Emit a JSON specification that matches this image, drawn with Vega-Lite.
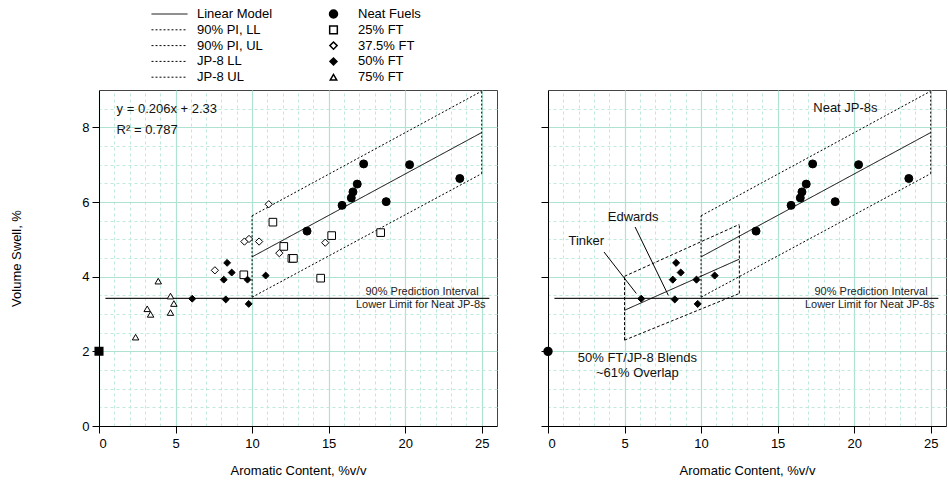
{
  "$schema": "https://vega.github.io/schema/vega-lite/v6.json",
  "background": "white",
  "padding": {"left": 10, "top": 7, "right": 0, "bottom": 0},
  "config": {
    "font": "Liberation Sans",
    "view": {"stroke": "#444", "strokeWidth": 1},
    "axis": {
      "labelFont": "Liberation Sans", "labelFontSize": 13, "labelColor": "#000",
      "titleFont": "Liberation Sans", "titleFontSize": 13, "titleFontWeight": "normal", "titleColor": "#000",
      "domainColor": "#000", "tickColor": "#000", "tickSize": 7,
      "gridColor": "#aee3d3", "gridWidth": 1.2
    },
    "legend": {"labelFont": "Liberation Sans", "labelFontSize": 13, "labelColor": "#000"}
  },
  "datasets": {
    "points": [
      {"x": 13.59, "y": 5.22, "group": "Neat Fuels"},
      {"x": 15.88, "y": 5.91, "group": "Neat Fuels"},
      {"x": 16.48, "y": 6.11, "group": "Neat Fuels"},
      {"x": 16.59, "y": 6.27, "group": "Neat Fuels"},
      {"x": 16.87, "y": 6.48, "group": "Neat Fuels"},
      {"x": 17.29, "y": 7.02, "group": "Neat Fuels"},
      {"x": 18.76, "y": 6.01, "group": "Neat Fuels"},
      {"x": 20.29, "y": 7.0, "group": "Neat Fuels"},
      {"x": 23.57, "y": 6.63, "group": "Neat Fuels"},
      {"x": 11.36, "y": 5.46, "group": "25% FT"},
      {"x": 12.07, "y": 4.81, "group": "25% FT"},
      {"x": 12.6, "y": 4.49, "group": "25% FT"},
      {"x": 12.7, "y": 4.49, "group": "25% FT"},
      {"x": 9.46, "y": 4.05, "group": "25% FT"},
      {"x": 15.2, "y": 5.1, "group": "25% FT"},
      {"x": 18.4, "y": 5.18, "group": "25% FT"},
      {"x": 14.48, "y": 3.96, "group": "25% FT"},
      {"x": 11.09, "y": 5.94, "group": "37.5% FT"},
      {"x": 9.5, "y": 4.94, "group": "37.5% FT"},
      {"x": 9.8, "y": 5.01, "group": "37.5% FT"},
      {"x": 10.46, "y": 4.94, "group": "37.5% FT"},
      {"x": 11.78, "y": 4.63, "group": "37.5% FT"},
      {"x": 7.57, "y": 4.17, "group": "37.5% FT"},
      {"x": 14.78, "y": 4.91, "group": "37.5% FT"},
      {"x": 8.37, "y": 4.37, "group": "50% FT"},
      {"x": 8.67, "y": 4.11, "group": "50% FT"},
      {"x": 8.15, "y": 3.92, "group": "50% FT"},
      {"x": 9.7, "y": 3.92, "group": "50% FT"},
      {"x": 10.89, "y": 4.03, "group": "50% FT"},
      {"x": 6.09, "y": 3.41, "group": "50% FT"},
      {"x": 8.28, "y": 3.39, "group": "50% FT"},
      {"x": 9.78, "y": 3.27, "group": "50% FT"},
      {"x": 3.87, "y": 3.88, "group": "75% FT"},
      {"x": 4.67, "y": 3.48, "group": "75% FT"},
      {"x": 4.89, "y": 3.28, "group": "75% FT"},
      {"x": 3.15, "y": 3.14, "group": "75% FT"},
      {"x": 3.37, "y": 2.99, "group": "75% FT"},
      {"x": 4.67, "y": 3.04, "group": "75% FT"},
      {"x": 2.39, "y": 2.38, "group": "75% FT"}
    ],
    "zero": [{"x": 0, "y": 2, "group": "Neat FT"}],
    "neatBand": [
      {"series": "Linear Model", "x": 10, "y": 4.53, "x2": 25, "y2": 7.86},
      {"series": "90% PI, LL", "x": 10, "y": 3.45, "x2": 25, "y2": 6.76},
      {"series": "90% PI, UL", "x": 10, "y": 5.63, "x2": 25, "y2": 8.97},
      {"series": "JP-8 LL", "x": 10, "y": 3.45, "x2": 10, "y2": 5.63},
      {"series": "JP-8 UL", "x": 25, "y": 6.76, "x2": 25, "y2": 8.97}
    ],
    "blendBand": [
      {"series": "Blend Model", "x": 5, "y": 3.1, "x2": 12.5, "y2": 4.47},
      {"series": "Blend PI, LL", "x": 5, "y": 2.3, "x2": 12.5, "y2": 3.55},
      {"series": "Blend PI, UL", "x": 5, "y": 4.01, "x2": 12.5, "y2": 5.4},
      {"series": "Blend LL", "x": 5, "y": 2.3, "x2": 5, "y2": 4.01},
      {"series": "Blend UL", "x": 12.5, "y": 3.55, "x2": 12.5, "y2": 5.4}
    ],
    "limit": [{"x": 0.42, "x2": 25.5, "y": 3.42}],
    "pointers": [
      {"label": "Edwards", "x": 5.69, "y": 5.33, "x2": 7.86, "y2": 3.5},
      {"label": "Tinker", "x": 3.66, "y": 4.66, "x2": 5.77, "y2": 3.55}
    ],
    "limitText": [
      {"x": 24.8, "y": 3.58, "text": "90% Prediction Interval"},
      {"x": 25.25, "y": 3.24, "text": "Lower Limit for Neat JP-8s"}
    ],
    "equation": [
      {"x": 1.15, "y": 8.5, "text": "y = 0.206x + 2.33"},
      {"x": 1.15, "y": 7.92, "text": "R² = 0.787"}
    ],
    "rightNotes": [
      {"x": 19.43, "y": 8.52, "text": "Neat JP-8s"},
      {"x": 5.56, "y": 5.6, "text": "Edwards"},
      {"x": 2.5, "y": 4.95, "text": "Tinker"},
      {"x": 5.84, "y": 1.83, "text": "50% FT/JP-8 Blends"},
      {"x": 5.84, "y": 1.42, "text": "~61% Overlap"}
    ]
  },
  "hconcat": [
    {
      "width": 398,
      "height": 336,
      "layer": [
        {
          "data": {"name": "limit"},
          "mark": {"type": "rule", "stroke": "#222", "strokeWidth": 1.2},
          "encoding": {
            "x": {"field": "x", "type": "quantitative", "scale": {"domain": [0, 26], "nice": false, "zero": false},
              "axis": {"orient": "top", "values": [1,2,3,4,6,7,8,9,11,12,13,14,16,17,18,19,21,22,23,24], "grid": true, "gridDash": [3, 3], "gridColor": "#bfe9dd", "gridWidth": 1, "domain": false, "ticks": false, "labels": false, "title": null}},
            "x2": {"field": "x2"},
            "y": {"field": "y", "type": "quantitative", "scale": {"domain": [0, 9], "nice": false, "zero": false},
              "axis": {"orient": "right", "values": [0.5,1,1.5,2.5,3,3.5,4.5,5,5.5,6.5,7,7.5,8.5], "grid": true, "gridDash": [3, 3], "gridColor": "#bfe9dd", "gridWidth": 1, "domain": false, "ticks": false, "labels": false, "title": null}}
          }
        },
        {
          "data": {"name": "neatBand"},
          "mark": {"type": "rule", "stroke": "#000", "strokeWidth": 1},
          "encoding": {
            "x": {"field": "x", "type": "quantitative", "axis": null},
            "x2": {"field": "x2"},
            "y": {"field": "y", "type": "quantitative", "axis": null},
            "y2": {"field": "y2"},
            "strokeDash": {"field": "series", "type": "nominal",
              "scale": {"domain": ["Linear Model", "90% PI, LL", "90% PI, UL", "JP-8 LL", "JP-8 UL"], "range": [[1, 0], [2, 2], [2, 2], [2, 2], [2, 2]]},
              "legend": {"orient": "none", "legendX": 52, "legendY": -82.5, "direction": "vertical", "title": null, "symbolType": "stroke", "symbolSize": 1296, "symbolStrokeColor": "#000", "symbolStrokeWidth": 1, "clipHeight": 13, "rowPadding": 1.8, "labelOffset": 9}}
          }
        },
        {
          "data": {"name": "points"},
          "mark": {"type": "point", "filled": true, "stroke": "#000", "strokeWidth": 1, "opacity": 1},
          "encoding": {
            "x": {"field": "x", "type": "quantitative",
              "axis": {"orient": "bottom", "values": [0, 5, 10, 15, 20, 25], "grid": true, "title": "Aromatic Content, %v/v", "labelPadding": 4, "titlePadding": 14}},
            "y": {"field": "y", "type": "quantitative",
              "axis": {"orient": "left", "values": [0, 2, 4, 6, 8], "grid": true, "title": "Volume Swell, %", "labelPadding": 3, "titlePadding": 58}},
            "shape": {"field": "group", "type": "nominal",
              "scale": {"domain": ["Neat Fuels", "25% FT", "37.5% FT", "50% FT", "75% FT"], "range": ["circle", "square", "diamond", "diamond", "triangle-up"]},
              "legend": {"orient": "none", "legendX": 228, "legendY": -82.5, "direction": "vertical", "title": null, "clipHeight": 13, "rowPadding": 1.8, "labelOffset": 18,
                "encode": {"symbols": {"update": {"stroke": {"value": "#000"}, "strokeWidth": {"value": 1}, "opacity": {"value": 1}}}}}},
            "fill": {"field": "group", "type": "nominal",
              "scale": {"domain": ["Neat Fuels", "25% FT", "37.5% FT", "50% FT", "75% FT"], "range": ["#000", "#fff", "#fff", "#000", "#fff"]},
              "legend": {"orient": "none", "legendX": 228, "legendY": -82.5, "direction": "vertical", "title": null, "clipHeight": 13, "rowPadding": 1.8, "labelOffset": 18,
                "encode": {"symbols": {"update": {"stroke": {"value": "#000"}, "strokeWidth": {"value": 1}, "opacity": {"value": 1}}}}}},
            "size": {"field": "group", "type": "nominal",
              "scale": {"domain": ["Neat Fuels", "25% FT", "37.5% FT", "50% FT", "75% FT"], "range": [64, 42, 40, 50, 45]},
              "legend": {"orient": "none", "legendX": 228, "legendY": -82.5, "direction": "vertical", "title": null, "clipHeight": 13, "rowPadding": 1.8, "labelOffset": 18,
                "encode": {"symbols": {"update": {"stroke": {"value": "#000"}, "strokeWidth": {"value": 1}, "opacity": {"value": 1}}}}}}
          }
        },
        {
          "data": {"name": "zero"},
          "mark": {"type": "point", "shape": "square", "filled": true, "fill": "#000", "stroke": "#000", "size": 50, "opacity": 1},
          "encoding": {
            "x": {"field": "x", "type": "quantitative", "axis": null},
            "y": {"field": "y", "type": "quantitative", "axis": null}
          }
        },
        {
          "data": {"name": "equation"},
          "mark": {"type": "text", "align": "left", "baseline": "middle", "fontSize": 13, "font": "Liberation Sans", "color": "#111"},
          "encoding": {
            "x": {"field": "x", "type": "quantitative", "axis": null},
            "y": {"field": "y", "type": "quantitative", "axis": null},
            "text": {"field": "text"}
          }
        },
        {
          "data": {"name": "limitText"},
          "mark": {"type": "text", "align": "right", "baseline": "middle", "fontSize": 11, "font": "Liberation Sans", "color": "#222"},
          "encoding": {
            "x": {"field": "x", "type": "quantitative", "axis": null},
            "y": {"field": "y", "type": "quantitative", "axis": null},
            "text": {"field": "text"}
          }
        }
      ],
      "resolve": {"axis": {"x": "independent", "y": "independent"}}
    },
    {
      "width": 398,
      "height": 336,
      "layer": [
        {
          "data": {"name": "limit"},
          "mark": {"type": "rule", "stroke": "#222", "strokeWidth": 1.2},
          "encoding": {
            "x": {"field": "x", "type": "quantitative", "scale": {"domain": [0, 26], "nice": false, "zero": false},
              "axis": {"orient": "top", "values": [1,2,3,4,6,7,8,9,11,12,13,14,16,17,18,19,21,22,23,24], "grid": true, "gridDash": [3, 3], "gridColor": "#bfe9dd", "gridWidth": 1, "domain": false, "ticks": false, "labels": false, "title": null}},
            "x2": {"field": "x2"},
            "y": {"field": "y", "type": "quantitative", "scale": {"domain": [0, 9], "nice": false, "zero": false},
              "axis": {"orient": "right", "values": [0.5,1,1.5,2.5,3,3.5,4.5,5,5.5,6.5,7,7.5,8.5], "grid": true, "gridDash": [3, 3], "gridColor": "#bfe9dd", "gridWidth": 1, "domain": false, "ticks": false, "labels": false, "title": null}}
          }
        },
        {
          "data": {"name": "neatBand"},
          "mark": {"type": "rule", "stroke": "#000", "strokeWidth": 1},
          "encoding": {
            "x": {"field": "x", "type": "quantitative", "axis": null},
            "x2": {"field": "x2"},
            "y": {"field": "y", "type": "quantitative", "axis": null},
            "y2": {"field": "y2"},
            "strokeDash": {"field": "series", "type": "nominal",
              "scale": {"domain": ["Linear Model", "90% PI, LL", "90% PI, UL", "JP-8 LL", "JP-8 UL", "Blend Model", "Blend PI, LL", "Blend PI, UL", "Blend LL", "Blend UL"], "range": [[1, 0], [2, 2], [2, 2], [2, 2], [2, 2], [1, 0], [3, 2], [3, 2], [3, 2], [3, 2]]},
              "legend": null}
          }
        },
        {
          "data": {"name": "blendBand"},
          "mark": {"type": "rule", "stroke": "#000", "strokeWidth": 1},
          "encoding": {
            "x": {"field": "x", "type": "quantitative", "axis": null},
            "x2": {"field": "x2"},
            "y": {"field": "y", "type": "quantitative", "axis": null},
            "y2": {"field": "y2"},
            "strokeDash": {"field": "series", "type": "nominal", "legend": null}
          }
        },
        {
          "data": {"name": "pointers"},
          "mark": {"type": "rule", "stroke": "#000", "strokeWidth": 1},
          "encoding": {
            "x": {"field": "x", "type": "quantitative", "axis": null},
            "x2": {"field": "x2"},
            "y": {"field": "y", "type": "quantitative", "axis": null},
            "y2": {"field": "y2"}
          }
        },
        {
          "data": {"name": "points"},
          "transform": [{"filter": "datum.group === 'Neat Fuels' || datum.group === '50% FT'"}],
          "mark": {"type": "point", "filled": true, "fill": "#000", "stroke": "#000", "strokeWidth": 1, "opacity": 1},
          "encoding": {
            "x": {"field": "x", "type": "quantitative",
              "axis": {"orient": "bottom", "values": [0, 5, 10, 15, 20, 25], "grid": true, "title": "Aromatic Content, %v/v", "labelPadding": 4, "titlePadding": 14}},
            "y": {"field": "y", "type": "quantitative",
              "axis": {"orient": "left", "values": [0, 2, 4, 6, 8], "grid": true, "labels": false, "title": null}},
            "shape": {"field": "group", "type": "nominal",
              "scale": {"domain": ["Neat Fuels", "50% FT"], "range": ["circle", "diamond"]}, "legend": null},
            "size": {"field": "group", "type": "nominal",
              "scale": {"domain": ["Neat Fuels", "50% FT"], "range": [64, 50]}, "legend": null}
          }
        },
        {
          "data": {"name": "zero"},
          "mark": {"type": "point", "shape": "circle", "filled": true, "fill": "#000", "stroke": "#000", "size": 55, "opacity": 1},
          "encoding": {
            "x": {"field": "x", "type": "quantitative", "axis": null},
            "y": {"field": "y", "type": "quantitative", "axis": null}
          }
        },
        {
          "data": {"name": "rightNotes"},
          "mark": {"type": "text", "align": "center", "baseline": "middle", "fontSize": 13, "font": "Liberation Sans", "color": "#111"},
          "encoding": {
            "x": {"field": "x", "type": "quantitative", "axis": null},
            "y": {"field": "y", "type": "quantitative", "axis": null},
            "text": {"field": "text"}
          }
        },
        {
          "data": {"name": "limitText"},
          "mark": {"type": "text", "align": "right", "baseline": "middle", "fontSize": 11, "font": "Liberation Sans", "color": "#222"},
          "encoding": {
            "x": {"field": "x", "type": "quantitative", "axis": null},
            "y": {"field": "y", "type": "quantitative", "axis": null},
            "text": {"field": "text"}
          }
        }
      ],
      "resolve": {"axis": {"x": "independent", "y": "independent"}}
    }
  ],
  "spacing": 51,
  "bounds": "flush",
  "resolve": {"scale": {"shape": "independent", "fill": "independent", "size": "independent", "strokeDash": "independent"}}
}
